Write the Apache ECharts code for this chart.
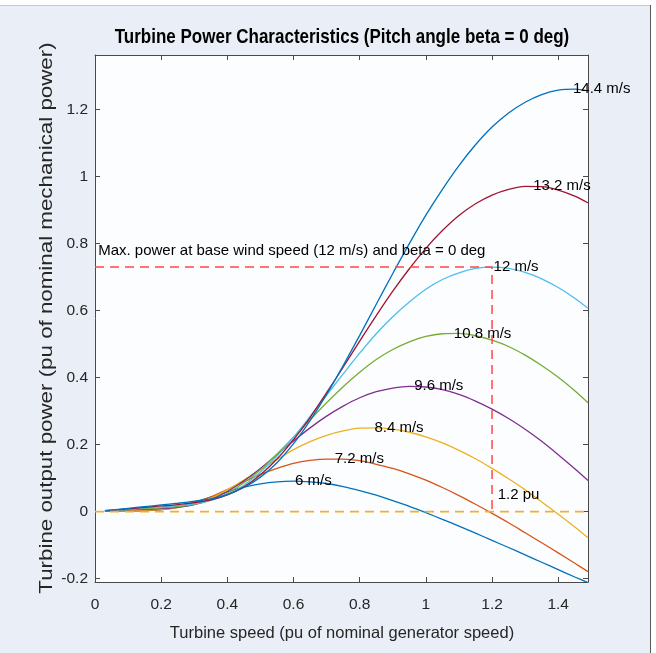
<!DOCTYPE html>
<html>
<head>
<meta charset="utf-8">
<script src="https://cdn.jsdelivr.net/npm/echarts@6/dist/echarts.min.js"></script>
<style>
html,body{margin:0;padding:0;background:#ffffff;}
#chart{width:656px;height:653px;}
</style>
</head>
<body>
<div id="chart"></div>
<script>
// ---- data ----
const speed = [0.03, 0.1, 0.15, 0.2, 0.25, 0.3, 0.35, 0.4, 0.45, 0.5, 0.55, 0.6, 0.65, 0.7, 0.75,
               0.8, 0.85, 0.9, 0.95, 1.0, 1.05, 1.1, 1.15, 1.2, 1.25, 1.3, 1.35, 1.4, 1.45, 1.49];
const windLabels = ['6 m/s', '7.2 m/s', '8.4 m/s', '9.6 m/s', '10.8 m/s', '12 m/s', '13.2 m/s', '14.4 m/s'];
const p6   = [0.001, 0.002, 0.003, 0.006, 0.015, 0.028, 0.043, 0.059, 0.073, 0.083, 0.089, 0.091, 0.089, 0.084, 0.075,
              0.063, 0.049, 0.033, 0.016, -0.003, -0.023, -0.043, -0.064, -0.086, -0.107, -0.129, -0.151, -0.173, -0.195, -0.212];
const p7_2 = [0.001, 0.003, 0.004, 0.006, 0.013, 0.025, 0.044, 0.066, 0.089, 0.111, 0.129, 0.144, 0.153, 0.157, 0.157,
              0.152, 0.141, 0.129, 0.113, 0.094, 0.072, 0.048, 0.022, -0.005, -0.033, -0.063, -0.093, -0.123, -0.154, -0.179];
const p8_4 = [0.001, 0.003, 0.005, 0.007, 0.012, 0.023, 0.040, 0.065, 0.094, 0.126, 0.156, 0.185, 0.209, 0.228, 0.241,
              0.249, 0.250, 0.246, 0.237, 0.223, 0.205, 0.183, 0.158, 0.129, 0.098, 0.065, 0.029, -0.008, -0.046, -0.078];
const p9_6 = [0.001, 0.005, 0.007, 0.009, 0.013, 0.021, 0.036, 0.060, 0.092, 0.129, 0.170, 0.211, 0.250, 0.285, 0.315,
              0.340, 0.358, 0.369, 0.374, 0.372, 0.364, 0.350, 0.330, 0.306, 0.278, 0.246, 0.210, 0.170, 0.128, 0.093];
const p10_8 = [0.002, 0.006, 0.009, 0.011, 0.015, 0.022, 0.034, 0.055, 0.086, 0.125, 0.172, 0.222, 0.274, 0.325, 0.373,
               0.416, 0.454, 0.484, 0.507, 0.523, 0.531, 0.532, 0.525, 0.512, 0.493, 0.467, 0.436, 0.401, 0.361, 0.325];
const p12  = [0.002, 0.007, 0.011, 0.014, 0.018, 0.023, 0.034, 0.051, 0.079, 0.118, 0.166, 0.222, 0.284, 0.348, 0.411,
              0.473, 0.531, 0.582, 0.626, 0.664, 0.693, 0.713, 0.726, 0.730, 0.726, 0.714, 0.695, 0.669, 0.637, 0.607];
const p13_2 = [0.003, 0.008, 0.013, 0.017, 0.021, 0.027, 0.035, 0.050, 0.074, 0.110, 0.157, 0.215, 0.281, 0.355, 0.431,
               0.509, 0.585, 0.658, 0.725, 0.786, 0.839, 0.884, 0.919, 0.945, 0.962, 0.971, 0.970, 0.960, 0.942, 0.922];
const p14_4 = [0.003, 0.010, 0.015, 0.020, 0.025, 0.031, 0.038, 0.051, 0.072, 0.103, 0.146, 0.203, 0.272, 0.350, 0.436,
               0.526, 0.619, 0.711, 0.800, 0.885, 0.962, 1.033, 1.095, 1.148, 1.190, 1.222, 1.245, 1.258, 1.261, 1.256];
const curves = [p6, p7_2, p8_4, p9_6, p10_8, p12, p13_2, p14_4];
// label anchor (peak) points
const peakSpeed = [0.6, 0.72, 0.84, 0.96, 1.08, 1.2, 1.32, 1.44];
const peakPower = [0.091, 0.158, 0.25, 0.374, 0.532, 0.73, 0.972, 1.261];
// reference (dashed) lines
const maxLineX = [0, 1.2, 1.2];
const maxLineY = [0.73, 0.73, 0];
const zeroLineX = [0, 1.49];
const zeroLineY = [0, 0];
// tick labels
const xTicks = [0, 0.2, 0.4, 0.6, 0.8, 1, 1.2, 1.4];
const yTicks = [-0.2, 0, 0.2, 0.4, 0.6, 0.8, 1, 1.2];
const titleText = 'Turbine Power Characteristics (Pitch angle beta = 0 deg)';
const xName = 'Turbine speed (pu of nominal generator speed)';
const yName = 'Turbine output power (pu of nominal mechanical power)';
const maxNote = 'Max. power at base wind speed (12 m/s) and beta = 0 deg';
const puNote = ' 1.2 pu';

// ---- styling ----
const colors = ['#0072BD', '#D95319', '#EDB120', '#7E2F8E', '#77AC30', '#4DBEEE', '#A2142F', '#0072BD'];
const FONT = "'Liberation Sans', Arial, Helvetica, sans-serif";
const axisColor = '#4a4a4a';
const X0 = 95, Y0 = 55, W = 493, H = 527;

const chart = echarts.init(document.getElementById('chart'), null, {renderer: 'canvas'});

const series = [];
curves.forEach((arr, i) => {
  series.push({
    type: 'line', name: windLabels[i], xAxisIndex: 0, yAxisIndex: 0,
    data: speed.map((s, k) => [s, arr[k]]),
    showSymbol: false, smooth: 0.3, silent: true,
    lineStyle: {color: colors[i], width: 1.3}, z: 3
  });
});
series.push({
  type: 'line', data: zeroLineX.map((x, k) => [x, zeroLineY[k]]), showSymbol: false, silent: true,
  lineStyle: {color: '#F0B030', width: 1.6, type: [9, 6]}, z: 4
});
series.push({
  type: 'line', data: maxLineX.map((x, k) => [x, maxLineY[k]]), showSymbol: false, silent: true,
  lineStyle: {color: '#FF4747', width: 1.5, type: [9, 6]}, z: 4
});
const labelData = peakSpeed.map((s, i) => ({name: windLabels[i], value: [s, peakPower[i]]}));
labelData.push({name: maxNote, value: [0.005, 0.778]});
labelData.push({name: puNote, value: [1.2, 0.05]});
series.push({
  type: 'scatter', data: labelData, symbolSize: 1, silent: true, clip: false,
  itemStyle: {color: 'rgba(0,0,0,0)'}, z: 6,
  label: {show: true, position: 'right', distance: 1, offset: [0, 4], formatter: p => p.name,
    fontFamily: FONT, fontSize: 15, color: '#000000', opacity: 1},
  labelLayout: {hideOverlap: false}
});

function xAx(pos, showLabels) {
  return {
    type: 'value', min: 0, max: 1.49, position: pos,
    axisLine: {show: true, onZero: false, lineStyle: {color: axisColor, width: 1}},
    axisTick: {show: true, inside: true, length: 5, customValues: xTicks, lineStyle: {color: axisColor}},
    axisLabel: {show: showLabels, customValues: xTicks, fontFamily: FONT, fontSize: 15.5, color: '#262626', margin: 15},
    splitLine: {show: false}
  };
}
function yAx(pos, showLabels) {
  return {
    type: 'value', min: -0.21, max: 1.363, position: pos,
    axisLine: {show: true, onZero: false, lineStyle: {color: axisColor, width: 1}},
    axisTick: {show: true, inside: true, length: 5, customValues: yTicks, lineStyle: {color: axisColor}},
    axisLabel: {show: showLabels, customValues: yTicks, fontFamily: FONT, fontSize: 15.5, color: '#262626', margin: 7},
    splitLine: {show: false}
  };
}

chart.setOption({
  animation: false,
  backgroundColor: '#eaeef6',
  grid: {left: X0, top: Y0, width: W, height: H, show: true, backgroundColor: '#fbfdff', borderWidth: 0},
  xAxis: [xAx('bottom', true), xAx('top', false)],
  yAxis: [yAx('left', true), yAx('right', false)],
  series: series,
  graphic: [
    {type: 'rect', shape: {x: 0, y: 0, width: 656, height: 5}, style: {fill: '#ffffff'}, silent: true},
    {type: 'rect', shape: {x: 651, y: 0, width: 5, height: 653}, style: {fill: '#ffffff'}, silent: true},
    {type: 'line', shape: {x1: 0, y1: 5.5, x2: 651, y2: 5.5}, style: {stroke: '#c8c8c8', lineWidth: 1}, silent: true},
    {type: 'line', shape: {x1: 650.5, y1: 5, x2: 650.5, y2: 653}, style: {stroke: '#5a5a5a', lineWidth: 1}, silent: true},
    {type: 'text', x: 342, y: 38, scaleY: 1.15, silent: true,
      style: {text: titleText, font: "bold 17px " + FONT, fill: '#000', align: 'center', verticalAlign: 'middle'}},
    {type: 'text', x: 342, y: 633, silent: true,
      style: {text: xName, font: "16.5px " + FONT, fill: '#262626', align: 'center', verticalAlign: 'middle'}},
    {type: 'text', x: 47, y: 318, rotation: Math.PI / 2, scaleX: 1.24, silent: true,
      style: {text: yName, font: "18px " + FONT, fill: '#262626', align: 'center', verticalAlign: 'middle'}}
  ]
});
</script>
</body>
</html>
